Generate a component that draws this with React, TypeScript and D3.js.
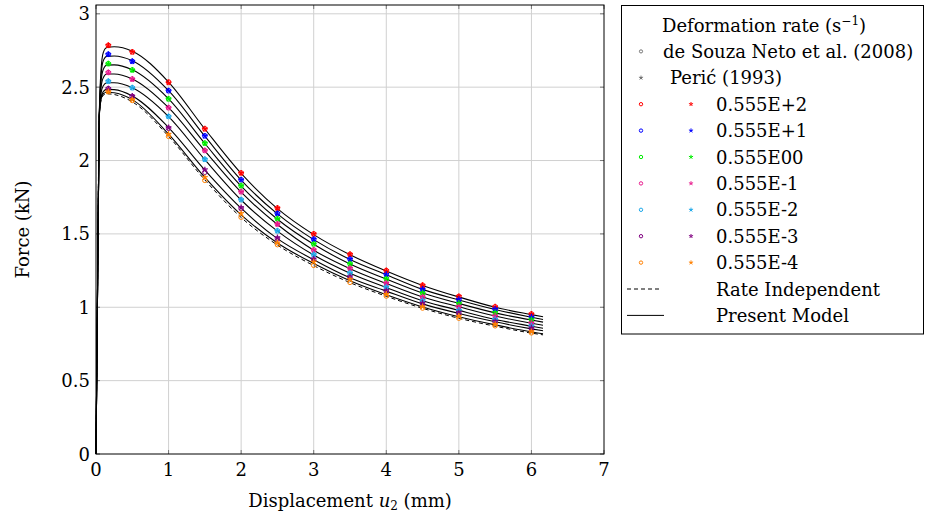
import React from "react";
import * as d3 from "d3";

// ---------- DATA ----------
const rateLabels = ["0.555E+2", "0.555E+1", "0.555E00", "0.555E-1", "0.555E-2", "0.555E-3", "0.555E-4"];
const rateColors = ["#ff0000", "#0000ff", "#00ee00", "#e8198c", "#1ea9ea", "#800080", "#ff8000"];

const xTicks = [0, 1, 2, 3, 4, 5, 6, 7];
const yTicks = [0, 0.5, 1, 1.5, 2, 2.5, 3];

// reference data points (displacement, mm)
const markerX = [0.17, 0.5, 1, 1.5, 2, 2.5, 3, 3.5, 4, 4.5, 5, 5.5, 6];

// de Souza Neto et al. (2008) — circles
const souzaRed = [2.785, 2.740, 2.535, 2.216, 1.915, 1.676, 1.500, 1.361, 1.250, 1.150, 1.074, 1.003, 0.954];
const souzaBlue = [2.724, 2.676, 2.476, 2.168, 1.869, 1.639, 1.464, 1.329, 1.225, 1.124, 1.054, 0.988, 0.935];
const souzaGreen = [2.660, 2.617, 2.420, 2.118, 1.828, 1.603, 1.432, 1.297, 1.195, 1.099, 1.029, 0.965, 0.917];
const souzaPink = [2.600, 2.555, 2.360, 2.068, 1.787, 1.567, 1.391, 1.266, 1.165, 1.072, 1.006, 0.942, 0.894];
const souzaCyan = [2.540, 2.496, 2.300, 2.008, 1.733, 1.521, 1.359, 1.234, 1.138, 1.047, 0.981, 0.919, 0.874];
const souzaPurple = [2.490, 2.437, 2.220, 1.920, 1.673, 1.466, 1.323, 1.200, 1.111, 1.022, 0.958, 0.901, 0.853];
const souzaOrange = [2.470, 2.410, 2.165, 1.865, 1.614, 1.427, 1.286, 1.170, 1.077, 0.995, 0.926, 0.874, 0.826];

// Perić (1993) — stars
const pericRed = [2.785, 2.740, 2.530, 2.216, 1.915, 1.676, 1.500, 1.361, 1.250, 1.150, 1.074, 1.003, 0.954];
const pericBlue = [2.724, 2.676, 2.476, 2.168, 1.869, 1.639, 1.464, 1.329, 1.225, 1.124, 1.054, 0.988, 0.935];
const pericGreen = [2.660, 2.617, 2.420, 2.118, 1.828, 1.603, 1.432, 1.297, 1.195, 1.099, 1.029, 0.965, 0.917];
const pericPink = [2.600, 2.555, 2.360, 2.068, 1.787, 1.567, 1.391, 1.266, 1.165, 1.072, 1.006, 0.942, 0.894];
const pericCyan = [2.540, 2.496, 2.300, 2.008, 1.733, 1.521, 1.359, 1.234, 1.138, 1.047, 0.981, 0.919, 0.874];
const pericPurple = [2.490, 2.440, 2.225, 1.938, 1.680, 1.475, 1.330, 1.210, 1.115, 1.030, 0.965, 0.905, 0.860];
const pericOrange = [2.470, 2.415, 2.180, 1.885, 1.640, 1.440, 1.310, 1.190, 1.090, 1.005, 0.940, 0.885, 0.835];

// Present model curves
const modelX = [0, 0.02, 0.045, 0.07, 0.1, 0.15, 0.25, 0.5, 1, 1.5, 2, 2.5, 3, 3.5, 4, 4.5, 5, 5.5, 6, 6.16];
const modelRed = [0, 1.05, 2.30, 2.62, 2.735, 2.770, 2.775, 2.745, 2.535, 2.215, 1.912, 1.672, 1.495, 1.358, 1.247, 1.149, 1.070, 1.000, 0.950, 0.935];
const modelBlue = [0, 1.05, 2.30, 2.58, 2.680, 2.710, 2.712, 2.680, 2.476, 2.166, 1.867, 1.636, 1.461, 1.326, 1.222, 1.122, 1.050, 0.985, 0.932, 0.917];
const modelGreen = [0, 1.05, 2.30, 2.54, 2.620, 2.650, 2.652, 2.618, 2.420, 2.116, 1.826, 1.600, 1.429, 1.295, 1.192, 1.097, 1.026, 0.962, 0.913, 0.899];
const modelPink = [0, 1.05, 2.30, 2.50, 2.565, 2.590, 2.590, 2.556, 2.360, 2.066, 1.784, 1.564, 1.389, 1.263, 1.162, 1.070, 1.003, 0.940, 0.891, 0.877];
const modelCyan = [0, 1.05, 2.30, 2.46, 2.510, 2.530, 2.530, 2.496, 2.300, 2.006, 1.731, 1.519, 1.356, 1.232, 1.135, 1.045, 0.979, 0.917, 0.871, 0.857];
const modelPurple = [0, 1.05, 2.30, 2.43, 2.470, 2.485, 2.483, 2.440, 2.225, 1.935, 1.675, 1.468, 1.324, 1.201, 1.110, 1.023, 0.958, 0.901, 0.853, 0.840];
const modelOrange = [0, 1.05, 2.30, 2.42, 2.455, 2.465, 2.462, 2.415, 2.180, 1.885, 1.630, 1.438, 1.298, 1.180, 1.085, 1.002, 0.935, 0.880, 0.832, 0.820];
const rateIndependent = [0, 1.05, 2.30, 2.41, 2.445, 2.455, 2.450, 2.400, 2.165, 1.868, 1.612, 1.424, 1.284, 1.168, 1.075, 0.993, 0.925, 0.871, 0.824, 0.812];

const souzaSeries = [souzaRed, souzaBlue, souzaGreen, souzaPink, souzaCyan, souzaPurple, souzaOrange];
const pericSeries = [pericRed, pericBlue, pericGreen, pericPink, pericCyan, pericPurple, pericOrange];
const modelSeries = [modelRed, modelBlue, modelGreen, modelPink, modelCyan, modelPurple, modelOrange];

// ---------- LAYOUT ----------
const W = 925;
const H = 518;
const FONT = "DejaVu Serif, serif";
const FS = 18;

function starPath(cx: number, cy: number, r: number) {
  let p = "";
  for (let k = 0; k < 5; k++) {
    const a = -Math.PI / 2 + (k * 2 * Math.PI) / 5;
    p += `M${cx},${cy}L${cx + r * Math.cos(a)},${cy + r * Math.sin(a)}`;
  }
  return p;
}

export default function App() {
  const x = d3.scaleLinear().domain([0, 7]).range([96, 604]);
  const y = d3.scaleLinear().domain([0, 3.06]).range([454, 5]);
  const [x0, x1] = x.range();
  const [y0, y1] = y.range();

  const line = d3
    .line<number>()
    .x((_, i) => x(modelX[i]))
    .y((d) => y(d))
    .curve(d3.curveMonotoneX);

  const legX = 621.5;
  const legY = 5.5;
  const rowY = (i: number) => 25 + i * 26.4;

  return (
    <svg
      width={W}
      height={H}
      style={{ position: "absolute", left: 0, top: 0, background: "#fff" }}
      fontFamily={FONT}
      fontSize={FS}
    >
      <rect x={0} y={0} width={W} height={H} fill="#fff" />
      {/* grid */}
      {xTicks.slice(1, -1).map((t) => (
        <line key={"gx" + t} x1={x(t)} x2={x(t)} y1={y0} y2={y1} stroke="#d0d0d0" strokeWidth={1} />
      ))}
      {yTicks.slice(1).map((t) => (
        <line key={"gy" + t} x1={x0} x2={x1} y1={y(t)} y2={y(t)} stroke="#d0d0d0" strokeWidth={1} />
      ))}
      {/* ticks */}
      {xTicks.map((t) => (
        <g key={"tx" + t}>
          <line x1={x(t)} x2={x(t)} y1={y0} y2={y0 - 4} stroke="#777" strokeWidth={1} />
          <line x1={x(t)} x2={x(t)} y1={y1} y2={y1 + 4} stroke="#777" strokeWidth={1} />
          <text x={x(t)} y={476} textAnchor="middle">{t}</text>
        </g>
      ))}
      {yTicks.map((t) => (
        <g key={"ty" + t}>
          <line x1={x0} x2={x0 + 4} y1={y(t)} y2={y(t)} stroke="#777" strokeWidth={1} />
          <line x1={x1} x2={x1 - 4} y1={y(t)} y2={y(t)} stroke="#777" strokeWidth={1} />
          <text x={90} y={y(t) + 6.5} textAnchor="end">{t}</text>
        </g>
      ))}

      {/* curves */}
      <path d={line(rateIndependent) || ""} fill="none" stroke="#000" strokeWidth={1} strokeDasharray="4,3" />
      {modelSeries.map((s, i) => (
        <path key={"m" + i} d={line(s) || ""} fill="none" stroke="#000" strokeWidth={1.1} />
      ))}

      {/* markers */}
      {souzaSeries.map((s, i) =>
        s.map((v, j) => (
          <circle key={`c${i}-${j}`} cx={x(markerX[j])} cy={y(v)} r={2.3} fill="none" stroke={rateColors[i]} strokeWidth={1} />
        ))
      )}
      {pericSeries.map((s, i) =>
        s.map((v, j) => (
          <path key={`s${i}-${j}`} d={starPath(x(markerX[j]), y(v), 3)} fill="none" stroke={rateColors[i]} strokeWidth={1.3} />
        ))
      )}

      {/* frame */}
      <rect x={x0} y={y1} width={x1 - x0} height={y0 - y1} fill="none" stroke="#000" strokeWidth={1} />

      {/* axis titles */}
      <text x={(x0 + x1) / 2} y={507} textAnchor="middle">
        Displacement <tspan fontStyle="italic">u</tspan>
        <tspan fontSize={12} dy={3}>2</tspan>
        <tspan dy={-3}> (mm)</tspan>
      </text>
      <text transform={`translate(29,${(y0 + y1) / 2}) rotate(-90)`} textAnchor="middle">
        Force (kN)
      </text>

      {/* legend */}
      <rect x={legX} y={legY} width={302} height={328.5} fill="#fff" stroke="#000" strokeWidth={1} />
      <text x={662} y={rowY(0) + 6.5}>
        Deformation rate (s<tspan fontSize={12} dy={-7}>−1</tspan>
        <tspan dy={7}>)</tspan>
      </text>
      <circle cx={641} cy={rowY(1)} r={1.6} fill="none" stroke="#555" strokeWidth={0.8} />
      <text x={663} y={rowY(1) + 6.5}>de Souza Neto et al. (2008)</text>
      <path d={starPath(641, rowY(2), 2.2)} stroke="#555" strokeWidth={0.8} fill="none" />
      <text x={670} y={rowY(2) + 6.5}>Perić (1993)</text>
      {rateLabels.map((lab, i) => (
        <g key={"l" + i}>
          <circle cx={641} cy={rowY(3 + i)} r={1.7} fill="none" stroke={rateColors[i]} strokeWidth={1} />
          <path d={starPath(691, rowY(3 + i), 2.2)} stroke={rateColors[i]} strokeWidth={1} fill="none" />
          <text x={716} y={rowY(3 + i) + 6.5}>{lab}</text>
        </g>
      ))}
      <line x1={627} x2={661} y1={rowY(10)} y2={rowY(10)} stroke="#000" strokeWidth={1} strokeDasharray="4,3" />
      <text x={716} y={rowY(10) + 6.5}>Rate Independent</text>
      <line x1={627} x2={664} y1={rowY(11)} y2={rowY(11)} stroke="#000" strokeWidth={1} />
      <text x={716} y={rowY(11) + 6.5}>Present Model</text>
    </svg>
  );
}
